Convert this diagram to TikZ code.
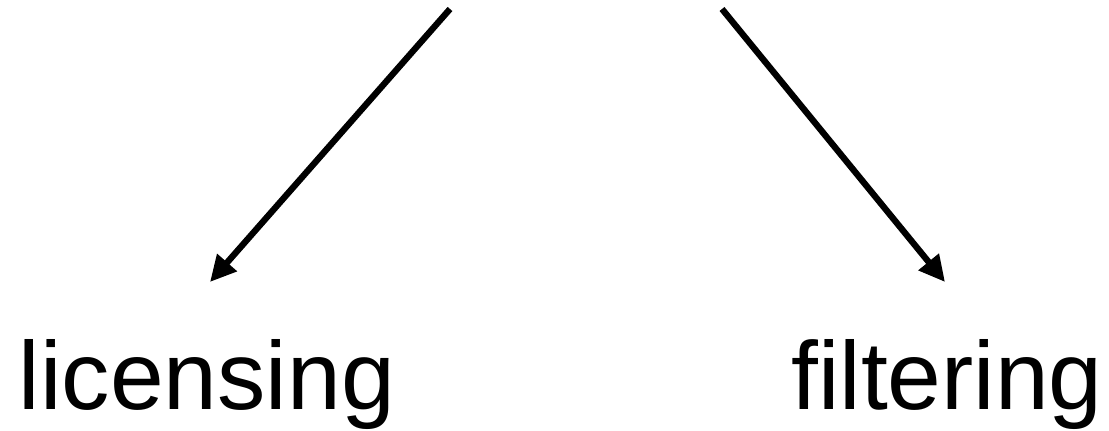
\documentclass[tikz,border=0pt]{standalone}
\usepackage{fontspec}
\setmainfont{Liberation Sans}
\usetikzlibrary{arrows.meta}

\begin{document}
\begin{tikzpicture}[
        x=0.02cm, y=-0.02cm,
        label/.style={
            anchor=base,
            inner sep=0pt,
            font=\fontsize{55}{60}\selectfont
        },
        arrow/.style={-{Triangle[length=0.52cm, width=0.5cm]}, line width=3.6pt}
    ]
    \useasboundingbox (0,0) rectangle (1109,431);
    \coordinate (leftstart) at (450,9);
    \coordinate (leftend) at (210,282);
    \coordinate (rightstart) at (722,9);
    \coordinate (rightend) at (945,282);

    \node[label] (licensing) at (207,410) {licensing};
    \node[label] (filtering) at (947,410) {filtering};

    \draw[arrow] (leftstart) -- (leftend);
    \draw[arrow] (rightstart) -- (rightend);
\end{tikzpicture}
\end{document}
